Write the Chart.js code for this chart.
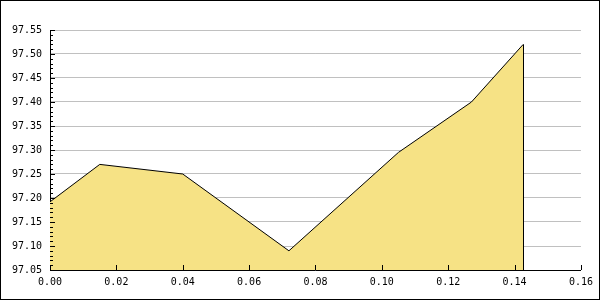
<!DOCTYPE html>
<html>
<head>
<meta charset="utf-8">
<script src="https://cdn.jsdelivr.net/npm/chart.js@4/dist/chart.umd.min.js"></script>
<style>
  html, body { margin: 0; padding: 0; background: #fff; }
  #box { width: 600px; height: 300px; box-sizing: border-box; border: 1px solid #000; }
  canvas { display: block; }
</style>
</head>
<body>
<div id="box"><canvas id="myChart" width="598" height="298"></canvas></div>
<script>
// valeurs
const xValues = [0, 0.015, 0.04, 0.072, 0.105, 0.127, 0.1426];
const yValues = [97.192, 97.27, 97.25, 97.09, 97.295, 97.40, 97.52];
const xTicks = [0, 0.02, 0.04, 0.06, 0.08, 0.10, 0.12, 0.14, 0.16];
const yTicks = [97.05, 97.10, 97.15, 97.20, 97.25, 97.30, 97.35, 97.40, 97.45, 97.50, 97.55];

const points = xValues.map((x, i) => ({ x: x, y: yValues[i] }));

// ticks vers l'intérieur + ligne verticale de fin
const tickPlugin = {
    id: 'insideTicks',
    afterDatasetsDraw(chart) {
        const ctx = chart.ctx;
        const xs = chart.scales.x;
        const ys = chart.scales.y;
        const area = chart.chartArea;
        ctx.save();
        ctx.strokeStyle = '#000';
        ctx.lineWidth = 1;
        ctx.beginPath();
        // ligne verticale sous le dernier point
        const meta = chart.getDatasetMeta(0);
        const last = meta.data[meta.data.length - 1];
        const lx = Math.round(last.x) + 0.5;
        ctx.moveTo(lx, last.y);
        ctx.lineTo(lx, area.bottom);
        // petits ticks y
        for (let v = 0; v <= 50; v++) {
            const py = Math.round(ys.getPixelForValue(97.05 + v * 0.01)) + 0.5;
            const len = v % 5 === 0 ? 5 : 3;
            ctx.moveTo(area.left, py);
            ctx.lineTo(area.left + len, py);
        }
        // ticks x
        xTicks.forEach(t => {
            const px = Math.round(xs.getPixelForValue(t)) + 0.5;
            ctx.moveTo(px, area.bottom);
            ctx.lineTo(px, area.bottom - 5);
        });
        ctx.stroke();
        ctx.restore();
    }
};

const font = { family: 'DejaVu Sans Mono', size: 10 };

new Chart(document.getElementById('myChart').getContext('2d'), {
    type: 'line',
    data: {
        datasets: [{
            data: points,
            borderColor: '#000',
            borderWidth: 1,
            backgroundColor: '#f6e285',
            fill: 'start',
            pointRadius: 0,
            tension: 0,
        }],
    },
    options: {
        responsive: false,
        animation: false,
        events: [],
        layout: { padding: { top: 29, right: 17, left: 0, bottom: 0 } },
        plugins: { legend: { display: false }, tooltip: { enabled: false } },
        scales: {
            x: {
                type: 'linear',
                min: 0,
                max: 0.16,
                afterBuildTicks: s => { s.ticks = xTicks.map(v => ({ value: v })); },
                afterFit: s => { s.height = 29; },
                ticks: {
                    color: '#000',
                    font: font,
                    padding: 6,
                    maxRotation: 0,
                    callback: v => v.toFixed(2),
                },
                grid: { display: false, drawTicks: false },
                border: { color: '#000', width: 1 },
            },
            y: {
                min: 97.05,
                max: 97.55,
                afterBuildTicks: s => { s.ticks = yTicks.map(v => ({ value: v })); },
                afterFit: s => { s.width = 49; },
                ticks: {
                    color: '#000',
                    font: font,
                    padding: 8,
                    callback: v => v.toFixed(2),
                },
                grid: { color: '#c0c0c0', drawTicks: false },
                border: { color: '#000', width: 1 },
            },
        },
    },
    plugins: [tickPlugin],
});
</script>
</body>
</html>
